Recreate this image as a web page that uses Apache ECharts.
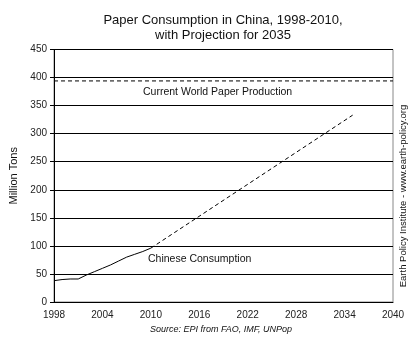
<!DOCTYPE html>
<html><head><meta charset="utf-8">
<script src="https://cdn.jsdelivr.net/npm/echarts@6/dist/echarts.min.js"></script>
<style>html,body{margin:0;padding:0;background:#fff}#c{width:412px;height:348px}</style>
</head><body><div id="c"></div>
<script>
var histYears = [1998,1999,2000,2001,2002,2003,2004,2005,2006,2007,2008,2009,2010];
var histValues = [38,40,41,41,48,54,60,66,73,80,85,90,96];
var projYears = [2010,2035];
var projValues = [96,333];
var worldProduction = 394;
var xTicks = [1998,2004,2010,2016,2022,2028,2034,2040];
var yTicks = [0,50,100,150,200,250,300,350,400,450];

var F = 'Liberation Sans, Arial, sans-serif';
var chart = echarts.init(document.getElementById('c'), null, {renderer:'canvas'});
chart.setOption({
  animation:false,
  backgroundColor:'#fff',
  title:{text:'Paper Consumption in China, 1998-2010,\nwith Projection for 2035', left:218, textAlign:'center', top:8,
    textStyle:{fontFamily:F,fontSize:13,fontWeight:'normal',color:'#111',lineHeight:15}},
  grid:{left:54,right:19,top:49.5,bottom:46,show:true,borderColor:'#888',borderWidth:1},
  xAxis:{type:'value',min:xTicks[0],max:xTicks[xTicks.length-1],interval:6,
    axisLine:{lineStyle:{color:'#000'}},axisTick:{show:false},splitLine:{show:false},
    axisLabel:{fontFamily:F,fontSize:10,color:'#222',margin:8,formatter:function(v){return String(v);}}},
  yAxis:{type:'value',min:yTicks[0],max:yTicks[yTicks.length-1],interval:50,
    name:'Million Tons',nameLocation:'middle',nameGap:34,nameTextStyle:{fontFamily:F,fontSize:11,color:'#111'},
    axisLine:{show:true,lineStyle:{color:'#000'}},axisTick:{show:true,length:4,lineStyle:{color:'#000'}},
    splitLine:{show:true,lineStyle:{color:'#000',width:1}},
    axisLabel:{fontFamily:F,fontSize:10,color:'#222',margin:7}},
  series:[
    {type:'line',data:histYears.map(function(y,i){return [y,histValues[i]];}),symbol:'none',
      lineStyle:{color:'#000',width:1}},
    {type:'line',data:projYears.map(function(y,i){return [y,projValues[i]];}),symbol:'none',
      lineStyle:{color:'#000',width:1,type:[4,3]}},
    {type:'line',data:[[xTicks[0],worldProduction],[xTicks[xTicks.length-1],worldProduction]],symbol:'none',
      lineStyle:{color:'#000',width:1,type:[4,3]}}
  ],
  graphic:[
    {type:'text',left:143,top:87,style:{text:'Current World Paper Production',font:'10.5px '+F,fill:'#111'}},
    {type:'text',left:148,top:254,style:{text:'Chinese Consumption',font:'10.5px '+F,fill:'#111'}},
    {type:'text',x:221,y:329,style:{text:'Source: EPI from FAO, IMF, UNPop',font:'italic 9px '+F,fill:'#111',align:'center',verticalAlign:'middle'}},
    {type:'text',x:403,y:196,rotation:Math.PI/2,style:{text:'Earth Policy Institute - www.earth-policy.org',font:'9.5px '+F,fill:'#111',align:'center',verticalAlign:'middle'}}
  ]
});
</script></body></html>
